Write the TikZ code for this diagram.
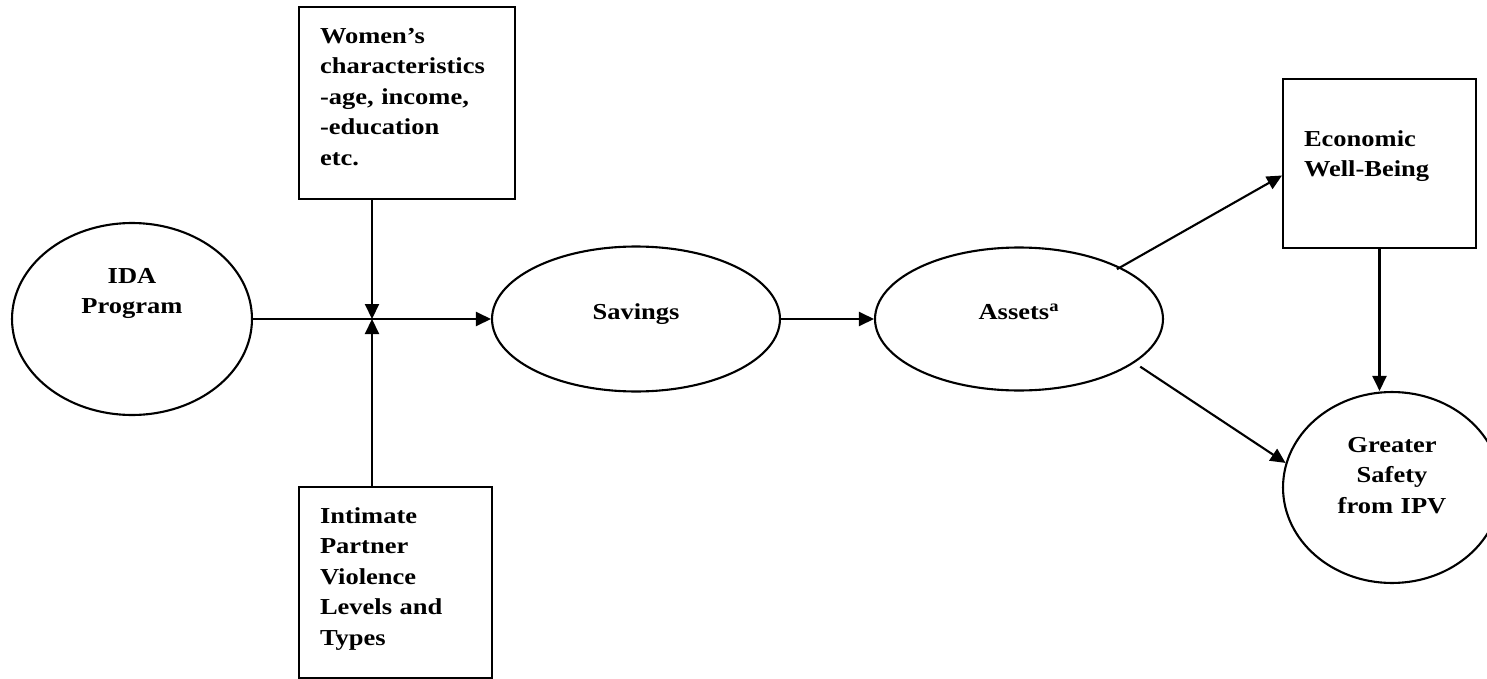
\documentclass[tikz,border=0pt]{standalone}
\usepackage{fontspec}
\setmainfont{Liberation Serif}[FakeStretch=1.16]
\usetikzlibrary{arrows.meta,shapes.geometric}

\begin{document}
\begin{tikzpicture}[x=0.02cm,y=-0.02cm,
		every node/.style={font=\fontsize{13pt}{17.4pt}\selectfont\bfseries, line width=1.2pt, text height=0.31cm},
		oval/.style={draw, ellipse, inner sep=0pt, align=center, text width=3cm},
		box/.style={draw, rectangle, inner xsep=0.42cm, inner ysep=0pt, align=left},
		link/.style={line width=1.2pt, -{Triangle[length=0.3cm,width=0.28cm]}}]
		\useasboundingbox (0,0) rectangle (1487,679);

		%% program and savings
		\node[oval, minimum width=4.8cm, minimum height=3.84cm, text depth=1.75cm] at (132,319)(ida){IDA\\Program};
		\node[oval, minimum width=5.76cm, minimum height=2.9cm, text depth=0.3cm] at (636,319)(savings){Savings};
		\coordinate (join) at (372,319);

		%% moderators
		\node[box, minimum width=4.32cm, minimum height=3.84cm, text width=3.48cm, text depth=2.71cm] at (407,103)(women){Women’s\\characteristics\\-age, income,\\-education\\etc.};
		\node[box, minimum width=3.86cm, minimum height=3.82cm, text width=3.02cm, text depth=2.69cm] at (395.5,582.5)(ipv){Intimate\\Partner\\Violence\\Levels and\\Types};

		\draw[link] (ida.east) -- (savings.west);
		\draw[link] (women.south -| join) -- (join);
		\draw[link] (ipv.north -| join) -- (join);

		%% assets
		\node[oval, minimum width=5.76cm, minimum height=2.86cm, text depth=0.3cm] at (1019,319)(assets){Assets\textsuperscript{a}};
		\draw[link] (savings.east) -- (assets.west);

		%% outcomes
		\node[box, minimum width=3.86cm, minimum height=3.38cm, text width=3.02cm, text depth=1.01cm] at (1379.5,163.5)(econ){Economic\\Well-Being};
		\node[oval, minimum width=4.36cm, minimum height=3.82cm, text width=2.4cm, text depth=1.73cm] at (1392,487.5)(safety){Greater\\Safety\\from IPV};

		\draw[link] ([shift={(3,5)}]assets.30) -- ([shift={(0,12)}]econ.west);
		\draw[link] ([shift={(4,5)}]assets.-20) -- (safety.167);
		\draw[link] (econ.south) -- (econ.south |- safety.north);
	\end{tikzpicture}
\end{document}
